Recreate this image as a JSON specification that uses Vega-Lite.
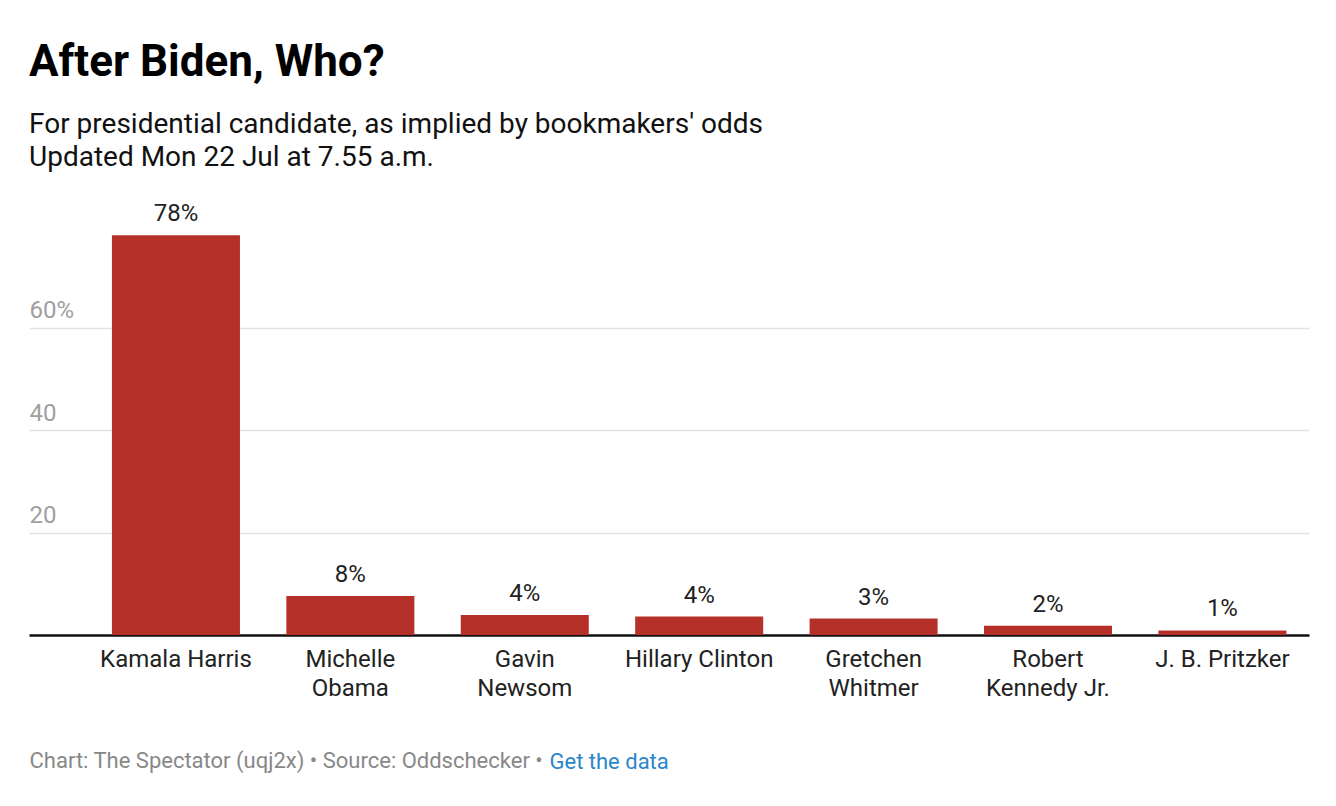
{
  "$schema": "https://vega.github.io/schema/vega-lite/v6.json",
  "width": 1280,
  "height": 410,
  "padding": {"left": 29, "right": 27, "top": 41, "bottom": 20},
  "background": "white",
  "config": {"font": "Roboto", "view": {"stroke": null}},
  "title": {
    "text": "After Biden, Who?",
    "subtitle": ["For presidential candidate, as implied by bookmakers' odds", "Updated Mon 22 Jul at 7.55 a.m."],
    "anchor": "start",
    "frame": "group",
    "font": "Roboto",
    "fontSize": 44,
    "fontWeight": "bold",
    "color": "#000000",
    "subtitleFont": "Roboto",
    "subtitleFontSize": 28,
    "subtitleColor": "#111111",
    "subtitleLineHeight": 33,
    "subtitlePadding": 26,
    "offset": 30
  },
  "data": {
    "values": [
      {"name": "Kamala Harris", "share": 0.78},
      {"name": "Michelle Obama", "share": 0.076},
      {"name": "Gavin Newsom", "share": 0.039},
      {"name": "Hillary Clinton", "share": 0.036},
      {"name": "Gretchen Whitmer", "share": 0.032},
      {"name": "Robert Kennedy Jr.", "share": 0.018},
      {"name": "J. B. Pritzker", "share": 0.009}
    ]
  },
  "encoding": {
    "x": {
      "field": "name",
      "type": "nominal",
      "sort": null,
      "scale": {"paddingInner": 0.266, "paddingOuter": 0.3025, "align": 0.786},
      "axis": {
        "title": "Chart: The Spectator (uqj2x) • Source: Oddschecker • ",
        "titleFont": "Roboto",
        "titleFontSize": 22,
        "titleFontWeight": "normal",
        "titleColor": "#888888",
        "titleAnchor": "start",
        "titleAlign": "left",
        "titlePadding": 50,
        "labelAngle": 0,
        "labelFont": "Roboto",
        "labelFontSize": 24,
        "labelColor": "#222222",
        "labelLineHeight": 29,
        "labelBaseline": "top",
        "labelPadding": 12,
        "labelExpr": "datum.label == 'Robert Kennedy Jr.' ? ['Robert', 'Kennedy Jr.'] : (indexof(['Michelle Obama', 'Gavin Newsom', 'Gretchen Whitmer'], datum.label) >= 0 ? split(datum.label, ' ') : datum.label)",
        "ticks": false,
        "domainColor": "#111111",
        "domainWidth": 2.5,
        "grid": false
      }
    },
    "y": {
      "field": "share",
      "type": "quantitative",
      "scale": {"domain": [0, 0.8], "nice": false},
      "axis": {
        "values": [0.2, 0.4, 0.6],
        "labelExpr": "datum.value > 0.5 ? '60%' : format(datum.value * 100, '.0f')",
        "labelAlign": "left",
        "labelBaseline": "alphabetic",
        "labelPadding": 0,
        "labelOffset": -10,
        "labelFont": "Roboto",
        "labelFontSize": 24,
        "labelColor": "#a0a0a0",
        "ticks": false,
        "domain": false,
        "grid": true,
        "gridColor": "#e3e3e3",
        "gridWidth": 1.5,
        "title": "Get the data",
        "titleAngle": 0,
        "titleAlign": "left",
        "titleBaseline": "alphabetic",
        "titleX": 520,
        "titleY": 543,
        "titleFont": "Roboto",
        "titleFontSize": 22,
        "titleFontWeight": "normal",
        "titleColor": "#2b86c9"
      }
    }
  },
  "layer": [
    {"mark": {"type": "bar", "color": "#b53029"}},
    {
      "mark": {"type": "text", "baseline": "alphabetic", "dy": -14, "font": "Roboto", "fontSize": 24, "color": "#222222"},
      "encoding": {"text": {"field": "share", "type": "quantitative", "format": ".0%"}}
    }
  ]
}
